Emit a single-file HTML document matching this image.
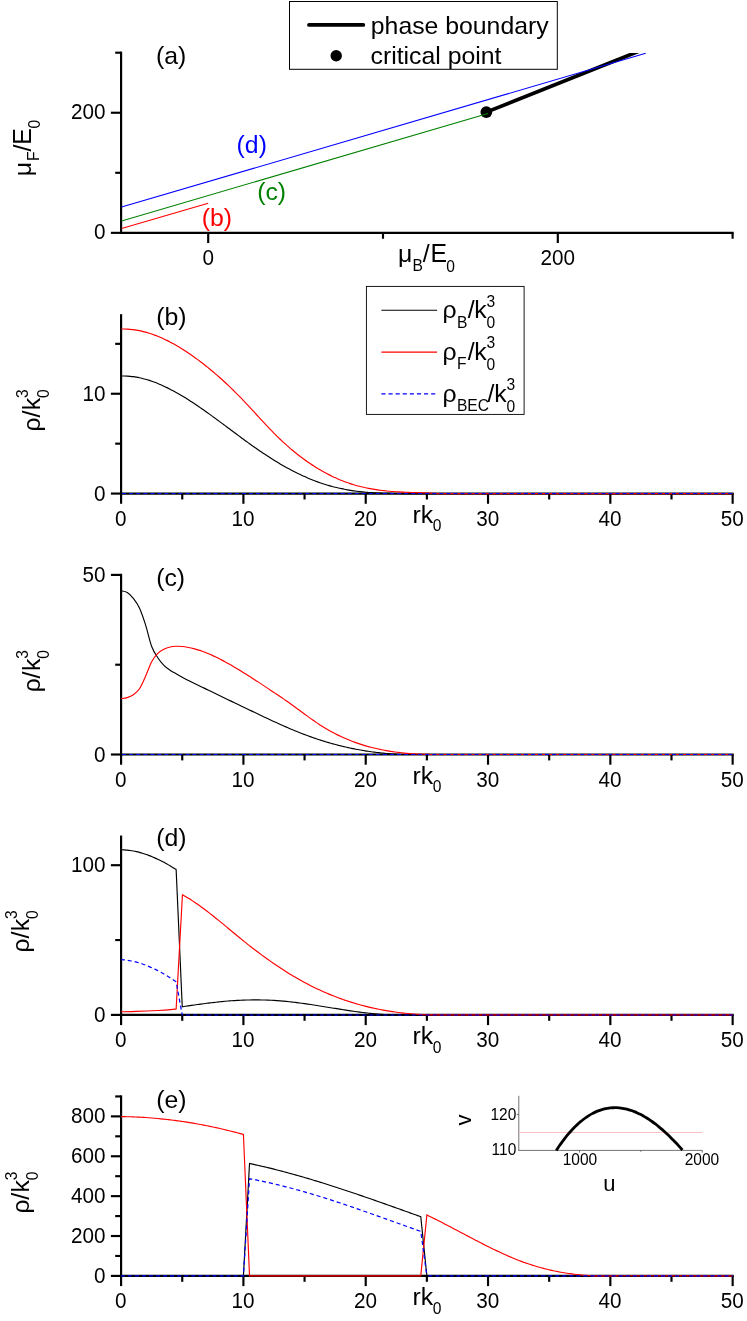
<!DOCTYPE html>
<html><head><meta charset="utf-8"><title>figure</title>
<style>html,body{margin:0;padding:0;background:#fff}svg{display:block;will-change:transform}text{font-family:"Liberation Sans",sans-serif}</style></head><body>
<svg width="747" height="1321" viewBox="0 0 747 1321">
<rect width="747" height="1321" fill="#fff"/>
<line x1="121.1" y1="51.62" x2="121.1" y2="232.85" stroke="#000" stroke-width="2.15" />
<line x1="110.9" y1="232.85" x2="121.1" y2="232.85" stroke="#000" stroke-width="2.15" />
<line x1="110.9" y1="112.75" x2="121.1" y2="112.75" stroke="#000" stroke-width="2.15" />
<line x1="115.2" y1="172.8" x2="121.1" y2="172.8" stroke="#000" stroke-width="2.15" />
<line x1="115.2" y1="52.7" x2="121.1" y2="52.7" stroke="#000" stroke-width="2.15" />
<text transform="translate(105.6 119.35) scale(1 1.04)" font-size="20.7" text-anchor="end" fill="#000" >200</text>
<text transform="translate(105.6 239.45) scale(1 1.04)" font-size="20.7" text-anchor="end" fill="#000" >0</text>
<line x1="120.02" y1="232.85" x2="733.67" y2="232.85" stroke="#000" stroke-width="2.15" />
<line x1="208.2" y1="232.85" x2="208.2" y2="243.05" stroke="#000" stroke-width="2.15" />
<line x1="557.8" y1="232.85" x2="557.8" y2="243.05" stroke="#000" stroke-width="2.15" />
<line x1="383" y1="232.85" x2="383" y2="238.75" stroke="#000" stroke-width="2.15" />
<line x1="732.6" y1="232.85" x2="732.6" y2="238.75" stroke="#000" stroke-width="2.15" />
<text transform="translate(208.2 264.95) scale(1 1.04)" font-size="20.7" text-anchor="middle" fill="#000" >0</text>
<text transform="translate(557.8 264.95) scale(1 1.04)" font-size="20.7" text-anchor="middle" fill="#000" >200</text>
<text transform="translate(398.1 262.4) scale(1 1)" font-size="24.8" text-anchor="start" fill="#000" >μ</text>
<text transform="translate(412.5 271.3) scale(1 1.04)" font-size="15.6" text-anchor="start" fill="#000" >B</text>
<text transform="translate(422.8 262.4) scale(1 1)" font-size="24.8" text-anchor="start" fill="#000" >/</text>
<text transform="translate(430.4 262.4) scale(1 1.04)" font-size="24.8" text-anchor="start" fill="#000" >E</text>
<text transform="translate(446.3 271.6) scale(1 1.04)" font-size="15.6" text-anchor="start" fill="#000" >0</text>
<g transform="translate(30.5 174.5) rotate(-90)">
<text transform="translate(-1.7 0) scale(1 1)" font-size="24.8" text-anchor="start" fill="#000" >μ</text>
<text transform="translate(13.5 8.9) scale(1 1.04)" font-size="15.6" text-anchor="start" fill="#000" >F</text>
<text transform="translate(23 0) scale(1 1)" font-size="24.8" text-anchor="start" fill="#000" >/</text>
<text transform="translate(29.8 0) scale(1 1.04)" font-size="24.8" text-anchor="start" fill="#000" >E</text>
<text transform="translate(46 9.2) scale(1 1.04)" font-size="15.6" text-anchor="start" fill="#000" >0</text>
</g>
<clipPath id="ca"><rect x="100" y="52.9" width="700" height="300"/></clipPath>
<g clip-path="url(#ca)">
<line x1="486.3" y1="112.1" x2="641" y2="50.4" stroke="#000" stroke-width="3.7" />
</g>
<line x1="121.6" y1="228.6" x2="208.2" y2="203.2" stroke="#ff0000" stroke-width="1.05" />
<circle cx="486.35" cy="112.1" r="5.9" fill="#000"/>
<line x1="121.6" y1="221" x2="488" y2="113.4" stroke="#008000" stroke-width="1.05" />
<line x1="121.6" y1="207.05" x2="645.7" y2="53.3" stroke="#0000ff" stroke-width="1.05" />
<text transform="translate(156 64.1) scale(1 1)" font-size="24.8" text-anchor="start" fill="#000" >(a)</text>
<text transform="translate(236.6 153.2) scale(1 1)" font-size="24.8" text-anchor="start" fill="#0000ff" >(d)</text>
<text transform="translate(257.2 199.8) scale(1 1)" font-size="24.8" text-anchor="start" fill="#008000" >(c)</text>
<text transform="translate(201.7 225.8) scale(1 1)" font-size="24.8" text-anchor="start" fill="#ff0000" >(b)</text>
<rect x="289.5" y="1.5" width="267.8" height="67.8" fill="#fff" stroke="#000" stroke-width="1"/>
<line x1="309" y1="24.9" x2="363.3" y2="24.9" stroke="#000" stroke-width="3.8" stroke-linecap="round"/>
<circle cx="336.2" cy="55.7" r="5.7" fill="#000"/>
<text transform="translate(370.8 34) scale(1 1)" font-size="24.8" text-anchor="start" fill="#000" >phase boundary</text>
<text transform="translate(370.5 63.9) scale(1 1)" font-size="24.8" text-anchor="start" fill="#000" >critical point</text>
<line x1="121.1" y1="314.19" x2="121.1" y2="494.64" stroke="#000" stroke-width="2.15" />
<line x1="110.9" y1="493.57" x2="121.1" y2="493.57" stroke="#000" stroke-width="2.15" />
<line x1="110.9" y1="393.75" x2="121.1" y2="393.75" stroke="#000" stroke-width="2.15" />
<line x1="115.2" y1="443.66" x2="121.1" y2="443.66" stroke="#000" stroke-width="2.15" />
<line x1="115.2" y1="343.84" x2="121.1" y2="343.84" stroke="#000" stroke-width="2.15" />
<text transform="translate(105.6 500.57) scale(1 1.04)" font-size="20.7" text-anchor="end" fill="#000" >0</text>
<text transform="translate(105.6 400.75) scale(1 1.04)" font-size="20.7" text-anchor="end" fill="#000" >10</text>
<line x1="120.02" y1="493.57" x2="733.73" y2="493.57" stroke="#000" stroke-width="2.15" />
<line x1="121.1" y1="493.57" x2="121.1" y2="503.77" stroke="#000" stroke-width="2.15" />
<line x1="243.41" y1="493.57" x2="243.41" y2="503.77" stroke="#000" stroke-width="2.15" />
<line x1="365.72" y1="493.57" x2="365.72" y2="503.77" stroke="#000" stroke-width="2.15" />
<line x1="488.03" y1="493.57" x2="488.03" y2="503.77" stroke="#000" stroke-width="2.15" />
<line x1="610.34" y1="493.57" x2="610.34" y2="503.77" stroke="#000" stroke-width="2.15" />
<line x1="732.65" y1="493.57" x2="732.65" y2="503.77" stroke="#000" stroke-width="2.15" />
<line x1="182.25" y1="493.57" x2="182.25" y2="499.47" stroke="#000" stroke-width="2.15" />
<line x1="304.56" y1="493.57" x2="304.56" y2="499.47" stroke="#000" stroke-width="2.15" />
<line x1="426.88" y1="493.57" x2="426.88" y2="499.47" stroke="#000" stroke-width="2.15" />
<line x1="549.18" y1="493.57" x2="549.18" y2="499.47" stroke="#000" stroke-width="2.15" />
<line x1="671.5" y1="493.57" x2="671.5" y2="499.47" stroke="#000" stroke-width="2.15" />
<text transform="translate(120.8 525.57) scale(1 1.04)" font-size="20.7" text-anchor="middle" fill="#000" >0</text>
<text transform="translate(243.11 525.57) scale(1 1.04)" font-size="20.7" text-anchor="middle" fill="#000" >10</text>
<text transform="translate(365.42 525.57) scale(1 1.04)" font-size="20.7" text-anchor="middle" fill="#000" >20</text>
<text transform="translate(487.73 525.57) scale(1 1.04)" font-size="20.7" text-anchor="middle" fill="#000" >30</text>
<text transform="translate(610.04 525.57) scale(1 1.04)" font-size="20.7" text-anchor="middle" fill="#000" >40</text>
<text transform="translate(732.35 525.57) scale(1 1.04)" font-size="20.7" text-anchor="middle" fill="#000" >50</text>
<text transform="translate(412.6 522.77) scale(1 1)" font-size="24.8" text-anchor="start" fill="#000" >rk</text>
<text transform="translate(432.8 531.47) scale(1 1.04)" font-size="15.6" text-anchor="start" fill="#000" >0</text>
<g transform="translate(39.9 429.8) rotate(-90)">
<text transform="translate(-1.6 0) scale(1 1)" font-size="24.8" text-anchor="start" fill="#000" >ρ</text>
<text transform="translate(12.2 0) scale(1 1)" font-size="24.8" text-anchor="start" fill="#000" >/</text>
<text transform="translate(19.6 0) scale(1 1)" font-size="24.8" text-anchor="start" fill="#000" >k</text>
<text transform="translate(31.8 -11.8) scale(1 1.04)" font-size="15.6" text-anchor="start" fill="#000" >3</text>
<text transform="translate(31.8 9.3) scale(1 1.04)" font-size="15.6" text-anchor="start" fill="#000" >0</text>
</g>
<text transform="translate(156.2 325.2) scale(1 1)" font-size="24.8" text-anchor="start" fill="#000" >(b)</text>
<path d="M121.1 376.01C121.61 376 123.14 375.97 124.16 375.98C125.18 376 126.2 376.03 127.22 376.09C128.24 376.14 129.26 376.22 130.28 376.32C131.3 376.42 132.32 376.54 133.33 376.68C134.35 376.81 135.37 376.97 136.39 377.15C137.41 377.33 138.43 377.52 139.45 377.74C140.47 377.95 141.49 378.19 142.51 378.44C143.53 378.69 144.55 378.96 145.57 379.25C146.59 379.54 147.61 379.84 148.63 380.16C149.65 380.48 150.67 380.82 151.69 381.17C152.71 381.53 153.73 381.9 154.75 382.28C155.77 382.67 156.78 383.07 157.8 383.49C158.82 383.9 159.84 384.33 160.86 384.78C161.88 385.22 162.9 385.68 163.92 386.15C164.94 386.62 165.96 387.11 166.98 387.61C168 388.11 169.02 388.62 170.04 389.14C171.06 389.67 172.08 390.2 173.1 390.75C174.12 391.3 175.14 391.86 176.16 392.43C177.18 393 178.2 393.58 179.22 394.17C180.23 394.76 181.25 395.36 182.27 395.98C183.29 396.59 184.31 397.21 185.33 397.84C186.35 398.47 187.37 399.11 188.39 399.76C189.41 400.41 190.43 401.06 191.45 401.73C192.47 402.39 193.49 403.07 194.51 403.74C195.53 404.42 196.55 405.11 197.57 405.8C198.59 406.5 199.61 407.2 200.63 407.9C201.65 408.61 202.67 409.32 203.68 410.04C204.7 410.75 205.72 411.48 206.74 412.2C207.76 412.93 208.78 413.66 209.8 414.4C210.82 415.13 211.84 415.87 212.86 416.62C213.88 417.36 214.9 418.11 215.92 418.85C216.94 419.6 217.96 420.36 218.98 421.11C220 421.86 221.02 422.62 222.04 423.38C223.06 424.14 224.08 424.89 225.1 425.65C226.12 426.41 227.13 427.18 228.15 427.94C229.17 428.7 230.19 429.46 231.21 430.22C232.23 430.98 233.25 431.74 234.27 432.5C235.29 433.26 236.31 434.02 237.33 434.78C238.35 435.53 239.37 436.29 240.39 437.04C241.41 437.79 242.43 438.54 243.45 439.29C244.47 440.04 245.49 440.78 246.51 441.53C247.53 442.27 248.55 443 249.57 443.74C250.58 444.47 251.6 445.2 252.62 445.92C253.64 446.65 254.66 447.37 255.68 448.08C256.7 448.8 257.72 449.5 258.74 450.21C259.76 450.91 260.78 451.61 261.8 452.3C262.82 452.98 263.84 453.67 264.86 454.34C265.88 455.02 266.9 455.69 267.92 456.35C268.94 457.01 269.96 457.66 270.98 458.31C272 458.95 273.02 459.59 274.03 460.22C275.05 460.85 276.07 461.47 277.09 462.08C278.11 462.7 279.13 463.3 280.15 463.9C281.17 464.5 282.19 465.09 283.21 465.67C284.23 466.25 285.25 466.82 286.27 467.39C287.29 467.95 288.31 468.51 289.33 469.06C290.35 469.6 291.37 470.14 292.39 470.67C293.41 471.2 294.43 471.72 295.45 472.23C296.47 472.74 297.48 473.25 298.5 473.74C299.52 474.23 300.54 474.72 301.56 475.19C302.58 475.67 303.6 476.14 304.62 476.59C305.64 477.05 306.66 477.49 307.68 477.93C308.7 478.37 309.72 478.8 310.74 479.21C311.76 479.63 312.78 480.04 313.8 480.44C314.82 480.84 315.84 481.22 316.86 481.6C317.88 481.98 318.9 482.35 319.92 482.71C320.93 483.06 321.95 483.41 322.97 483.75C323.99 484.08 325.01 484.41 326.03 484.73C327.05 485.04 328.07 485.35 329.09 485.64C330.11 485.93 331.13 486.22 332.15 486.49C333.17 486.76 334.19 487.03 335.21 487.28C336.23 487.53 337.25 487.77 338.27 488C339.29 488.24 340.31 488.46 341.33 488.67C342.35 488.88 343.37 489.09 344.38 489.28C345.4 489.48 346.42 489.66 347.44 489.84C348.46 490.02 349.48 490.19 350.5 490.35C351.52 490.51 352.54 490.66 353.56 490.81C354.58 490.95 355.6 491.09 356.62 491.22C357.64 491.35 358.66 491.47 359.68 491.59C360.7 491.7 361.72 491.81 362.74 491.92C363.76 492.02 364.78 492.11 365.8 492.2C366.82 492.29 367.83 492.38 368.85 492.46C369.87 492.54 370.89 492.61 371.91 492.68C372.93 492.74 373.95 492.81 374.97 492.86C375.99 492.92 377.01 492.98 378.03 493.02C379.05 493.07 380.07 493.12 381.09 493.16C382.11 493.2 383.13 493.23 384.15 493.27C385.17 493.3 386.19 493.33 387.21 493.35C388.23 493.38 389.25 493.4 390.27 493.42C391.28 493.44 392.3 493.46 393.32 493.48C394.34 493.49 395.36 493.5 396.38 493.52C397.4 493.53 398.42 493.54 399.44 493.54C400.46 493.55 401.99 493.56 402.5 493.56L732.65 493.57" fill="none" stroke="#000" stroke-width="1.15" />
<path d="M121.1 329C121.61 329 123.14 328.97 124.15 328.99C125.17 329 126.19 329.04 127.21 329.09C128.23 329.15 129.24 329.22 130.26 329.31C131.28 329.41 132.3 329.52 133.32 329.65C134.33 329.79 135.35 329.94 136.37 330.11C137.39 330.28 138.41 330.47 139.42 330.67C140.44 330.88 141.46 331.11 142.48 331.35C143.49 331.59 144.51 331.85 145.53 332.13C146.55 332.41 147.57 332.7 148.58 333.01C149.6 333.32 150.62 333.65 151.64 334C152.66 334.34 153.67 334.71 154.69 335.09C155.71 335.46 156.73 335.86 157.75 336.27C158.76 336.68 159.78 337.1 160.8 337.55C161.82 337.99 162.84 338.44 163.85 338.92C164.87 339.39 165.89 339.88 166.91 340.38C167.93 340.88 168.94 341.39 169.96 341.92C170.98 342.46 172 343 173.02 343.56C174.03 344.12 175.05 344.69 176.07 345.27C177.09 345.86 178.11 346.46 179.12 347.07C180.14 347.68 181.16 348.31 182.18 348.95C183.19 349.58 184.21 350.23 185.23 350.9C186.25 351.56 187.27 352.23 188.28 352.92C189.3 353.61 190.32 354.31 191.34 355.02C192.36 355.73 193.37 356.45 194.39 357.18C195.41 357.91 196.43 358.66 197.45 359.41C198.46 360.17 199.48 360.93 200.5 361.71C201.52 362.48 202.54 363.27 203.55 364.06C204.57 364.86 205.59 365.66 206.61 366.48C207.63 367.3 208.64 368.12 209.66 368.96C210.68 369.8 211.7 370.65 212.72 371.5C213.73 372.36 214.75 373.23 215.77 374.11C216.79 374.98 217.81 375.87 218.82 376.77C219.84 377.67 220.86 378.58 221.88 379.5C222.89 380.42 223.91 381.35 224.93 382.29C225.95 383.23 226.97 384.18 227.98 385.14C229 386.1 230.02 387.07 231.04 388.06C232.06 389.04 233.07 390.03 234.09 391.03C235.11 392.04 236.13 393.05 237.15 394.07C238.16 395.1 239.18 396.13 240.2 397.17C241.22 398.22 242.24 399.27 243.25 400.34C244.27 401.4 245.29 402.48 246.31 403.56C247.33 404.65 248.34 405.74 249.36 406.84C250.38 407.94 251.4 409.04 252.42 410.15C253.43 411.26 254.45 412.37 255.47 413.48C256.49 414.59 257.51 415.7 258.52 416.81C259.54 417.92 260.56 419.03 261.58 420.13C262.59 421.24 263.61 422.34 264.63 423.43C265.65 424.53 266.67 425.61 267.68 426.69C268.7 427.77 269.72 428.84 270.74 429.89C271.76 430.95 272.77 432 273.79 433.03C274.81 434.06 275.83 435.08 276.85 436.08C277.86 437.08 278.88 438.07 279.9 439.04C280.92 440.01 281.94 440.97 282.95 441.91C283.97 442.85 284.99 443.78 286.01 444.69C287.03 445.61 288.04 446.5 289.06 447.39C290.08 448.27 291.1 449.14 292.12 449.99C293.13 450.85 294.15 451.69 295.17 452.51C296.19 453.34 297.21 454.15 298.22 454.95C299.24 455.74 300.26 456.52 301.28 457.29C302.29 458.06 303.31 458.81 304.33 459.55C305.35 460.29 306.37 461.02 307.38 461.73C308.4 462.44 309.42 463.14 310.44 463.82C311.46 464.5 312.47 465.17 313.49 465.83C314.51 466.48 315.53 467.13 316.55 467.75C317.56 468.38 318.58 469 319.6 469.6C320.62 470.2 321.64 470.78 322.65 471.36C323.67 471.93 324.69 472.49 325.71 473.03C326.73 473.58 327.74 474.11 328.76 474.63C329.78 475.15 330.8 475.66 331.82 476.15C332.83 476.64 333.85 477.12 334.87 477.59C335.89 478.05 336.91 478.51 337.92 478.94C338.94 479.38 339.96 479.81 340.98 480.22C341.99 480.64 343.01 481.04 344.03 481.42C345.05 481.81 346.07 482.19 347.08 482.55C348.1 482.91 349.12 483.26 350.14 483.59C351.16 483.93 352.17 484.25 353.19 484.56C354.21 484.88 355.23 485.17 356.25 485.46C357.26 485.74 358.28 486.02 359.3 486.28C360.32 486.54 361.34 486.79 362.35 487.03C363.37 487.27 364.39 487.5 365.41 487.71C366.43 487.93 367.44 488.14 368.46 488.34C369.48 488.53 370.5 488.72 371.52 488.9C372.53 489.08 373.55 489.25 374.57 489.41C375.59 489.57 376.61 489.72 377.62 489.86C378.64 490.01 379.66 490.14 380.68 490.27C381.69 490.4 382.71 490.52 383.73 490.63C384.75 490.74 385.77 490.85 386.78 490.95C387.8 491.05 388.82 491.15 389.84 491.23C390.86 491.32 391.87 491.41 392.89 491.48C393.91 491.56 394.93 491.63 395.95 491.7C396.96 491.77 397.98 491.83 399 491.89C400.02 491.95 401.04 492.01 402.05 492.06C403.07 492.12 404.09 492.16 405.11 492.21C406.13 492.26 407.14 492.3 408.16 492.34C409.18 492.39 410.2 492.43 411.22 492.46C412.23 492.5 413.25 492.54 414.27 492.58C415.29 492.61 416.31 492.65 417.32 492.68C418.34 492.72 419.36 492.75 420.38 492.79C421.39 492.82 422.41 492.86 423.43 492.89C424.45 492.93 425.47 492.97 426.48 493C427.5 493.04 428.52 493.08 429.54 493.12C430.56 493.17 431.57 493.21 432.59 493.26C433.61 493.3 434.63 493.35 435.65 493.41C436.66 493.46 438.19 493.54 438.7 493.57L732.65 493.57" fill="none" stroke="#ff0000" stroke-width="1.15" />
<path d="M121.1 493.5L732.65 493.5" fill="none" stroke="#0000ff" stroke-width="1.15" stroke-dasharray="4.12 2.93" stroke-dashoffset="6.15"/>
<rect x="366.4" y="286.4" width="157.7" height="128" fill="#fff" stroke="#000" stroke-width="0.9"/>
<line x1="381.4" y1="310.2" x2="437.1" y2="310.2" stroke="#000" stroke-width="1.15" />
<text transform="translate(442.4 318.2) scale(1 1)" font-size="24.8" text-anchor="start" fill="#000" >ρ</text>
<text transform="translate(456.9 327.5) scale(1 1.04)" font-size="15.6" text-anchor="start" fill="#000" >B</text>
<text transform="translate(467.7 318.2) scale(1 1)" font-size="24.8" text-anchor="start" fill="#000" >/</text>
<text transform="translate(474.3 318.2) scale(1 1)" font-size="24.8" text-anchor="start" fill="#000" >k</text>
<text transform="translate(486.6 306.5) scale(1 1.04)" font-size="15.6" text-anchor="start" fill="#000" >3</text>
<text transform="translate(486.6 327.7) scale(1 1.04)" font-size="15.6" text-anchor="start" fill="#000" >0</text>
<line x1="381.4" y1="352.15" x2="437.1" y2="352.15" stroke="#ff0000" stroke-width="1.15" />
<text transform="translate(442.4 360.15) scale(1 1)" font-size="24.8" text-anchor="start" fill="#000" >ρ</text>
<text transform="translate(456.9 369.45) scale(1 1.04)" font-size="15.6" text-anchor="start" fill="#000" >F</text>
<text transform="translate(467.7 360.15) scale(1 1)" font-size="24.8" text-anchor="start" fill="#000" >/</text>
<text transform="translate(474.3 360.15) scale(1 1)" font-size="24.8" text-anchor="start" fill="#000" >k</text>
<text transform="translate(486.6 348.45) scale(1 1.04)" font-size="15.6" text-anchor="start" fill="#000" >3</text>
<text transform="translate(486.6 369.65) scale(1 1.04)" font-size="15.6" text-anchor="start" fill="#000" >0</text>
<line x1="381.4" y1="393.9" x2="437.1" y2="393.9" stroke="#0000ff" stroke-width="1.15" stroke-dasharray="4.15 2.95"/>
<text transform="translate(442.4 402.1) scale(1 1)" font-size="24.8" text-anchor="start" fill="#000" >ρ</text>
<text transform="translate(456.9 411.4) scale(1 1.04)" font-size="15.6" text-anchor="start" fill="#000" >BEC</text>
<text transform="translate(487.6 402.1) scale(1 1)" font-size="24.8" text-anchor="start" fill="#000" >/</text>
<text transform="translate(494.2 402.1) scale(1 1)" font-size="24.8" text-anchor="start" fill="#000" >k</text>
<text transform="translate(506.5 390.4) scale(1 1.04)" font-size="15.6" text-anchor="start" fill="#000" >3</text>
<text transform="translate(506.5 411.6) scale(1 1.04)" font-size="15.6" text-anchor="start" fill="#000" >0</text>
<line x1="121.1" y1="573.82" x2="121.1" y2="755.58" stroke="#000" stroke-width="2.15" />
<line x1="110.9" y1="754.5" x2="121.1" y2="754.5" stroke="#000" stroke-width="2.15" />
<line x1="110.9" y1="574.9" x2="121.1" y2="574.9" stroke="#000" stroke-width="2.15" />
<line x1="115.2" y1="664.7" x2="121.1" y2="664.7" stroke="#000" stroke-width="2.15" />
<text transform="translate(105.6 761.5) scale(1 1.04)" font-size="20.7" text-anchor="end" fill="#000" >0</text>
<text transform="translate(105.6 581.9) scale(1 1.04)" font-size="20.7" text-anchor="end" fill="#000" >50</text>
<line x1="120.02" y1="754.5" x2="733.73" y2="754.5" stroke="#000" stroke-width="2.15" />
<line x1="121.1" y1="754.5" x2="121.1" y2="764.7" stroke="#000" stroke-width="2.15" />
<line x1="243.41" y1="754.5" x2="243.41" y2="764.7" stroke="#000" stroke-width="2.15" />
<line x1="365.72" y1="754.5" x2="365.72" y2="764.7" stroke="#000" stroke-width="2.15" />
<line x1="488.03" y1="754.5" x2="488.03" y2="764.7" stroke="#000" stroke-width="2.15" />
<line x1="610.34" y1="754.5" x2="610.34" y2="764.7" stroke="#000" stroke-width="2.15" />
<line x1="732.65" y1="754.5" x2="732.65" y2="764.7" stroke="#000" stroke-width="2.15" />
<line x1="182.25" y1="754.5" x2="182.25" y2="760.4" stroke="#000" stroke-width="2.15" />
<line x1="304.56" y1="754.5" x2="304.56" y2="760.4" stroke="#000" stroke-width="2.15" />
<line x1="426.88" y1="754.5" x2="426.88" y2="760.4" stroke="#000" stroke-width="2.15" />
<line x1="549.18" y1="754.5" x2="549.18" y2="760.4" stroke="#000" stroke-width="2.15" />
<line x1="671.5" y1="754.5" x2="671.5" y2="760.4" stroke="#000" stroke-width="2.15" />
<text transform="translate(120.8 786.5) scale(1 1.04)" font-size="20.7" text-anchor="middle" fill="#000" >0</text>
<text transform="translate(243.11 786.5) scale(1 1.04)" font-size="20.7" text-anchor="middle" fill="#000" >10</text>
<text transform="translate(365.42 786.5) scale(1 1.04)" font-size="20.7" text-anchor="middle" fill="#000" >20</text>
<text transform="translate(487.73 786.5) scale(1 1.04)" font-size="20.7" text-anchor="middle" fill="#000" >30</text>
<text transform="translate(610.04 786.5) scale(1 1.04)" font-size="20.7" text-anchor="middle" fill="#000" >40</text>
<text transform="translate(732.35 786.5) scale(1 1.04)" font-size="20.7" text-anchor="middle" fill="#000" >50</text>
<text transform="translate(412.6 783.7) scale(1 1)" font-size="24.8" text-anchor="start" fill="#000" >rk</text>
<text transform="translate(432.8 792.4) scale(1 1.04)" font-size="15.6" text-anchor="start" fill="#000" >0</text>
<g transform="translate(39.9 690.6) rotate(-90)">
<text transform="translate(-1.6 0) scale(1 1)" font-size="24.8" text-anchor="start" fill="#000" >ρ</text>
<text transform="translate(12.2 0) scale(1 1)" font-size="24.8" text-anchor="start" fill="#000" >/</text>
<text transform="translate(19.6 0) scale(1 1)" font-size="24.8" text-anchor="start" fill="#000" >k</text>
<text transform="translate(31.8 -11.8) scale(1 1.04)" font-size="15.6" text-anchor="start" fill="#000" >3</text>
<text transform="translate(31.8 9.3) scale(1 1.04)" font-size="15.6" text-anchor="start" fill="#000" >0</text>
</g>
<text transform="translate(156.2 585.8) scale(1 1)" font-size="24.8" text-anchor="start" fill="#000" >(c)</text>
<path d="M121.1 590.8C122.12 591.08 125.18 591.25 127.22 592.5C129.25 593.75 131.29 595.73 133.33 598.3C135.37 600.87 137.41 603.48 139.45 607.9C141.48 612.32 143.52 618.37 145.56 624.8C147.6 631.23 149.64 641.02 151.68 646.5C153.72 651.98 155.75 654.57 157.79 657.7C159.83 660.83 161.87 663.22 163.91 665.3C165.95 667.38 167.99 668.78 170.02 670.2C172.06 671.62 174.1 672.63 176.14 673.8C178.18 674.97 180.22 676.1 182.25 677.2C184.29 678.3 186.33 679.37 188.37 680.4C190.41 681.43 192.45 682.4 194.49 683.4C196.52 684.4 199.07 685.65 200.6 686.4C202.13 687.15 202.63 687.39 203.65 687.89C204.66 688.38 205.68 688.87 206.69 689.36C207.71 689.86 208.72 690.35 209.74 690.84C210.75 691.33 211.77 691.82 212.79 692.31C213.8 692.8 214.82 693.3 215.83 693.79C216.85 694.28 217.86 694.77 218.88 695.26C219.89 695.75 220.91 696.24 221.92 696.73C222.94 697.22 223.95 697.71 224.97 698.2C225.98 698.69 227 699.18 228.01 699.67C229.03 700.16 230.05 700.65 231.06 701.13C232.08 701.62 233.09 702.11 234.11 702.6C235.12 703.09 236.14 703.58 237.15 704.06C238.17 704.55 239.18 705.04 240.2 705.53C241.21 706.01 242.23 706.5 243.24 706.99C244.26 707.48 245.28 707.96 246.29 708.45C247.31 708.93 248.32 709.42 249.34 709.91C250.35 710.39 251.37 710.88 252.38 711.36C253.4 711.85 254.41 712.33 255.43 712.82C256.44 713.3 257.46 713.79 258.47 714.27C259.49 714.75 260.5 715.24 261.52 715.72C262.54 716.2 263.55 716.68 264.57 717.16C265.58 717.64 266.6 718.12 267.61 718.59C268.63 719.07 269.64 719.54 270.66 720.01C271.67 720.49 272.69 720.96 273.7 721.42C274.72 721.89 275.73 722.36 276.75 722.82C277.76 723.28 278.78 723.74 279.8 724.2C280.81 724.66 281.83 725.11 282.84 725.56C283.86 726.01 284.87 726.46 285.89 726.9C286.9 727.34 287.92 727.78 288.93 728.22C289.95 728.65 290.96 729.09 291.98 729.51C292.99 729.94 294.01 730.36 295.03 730.78C296.04 731.2 297.06 731.61 298.07 732.02C299.09 732.43 300.1 732.83 301.12 733.23C302.13 733.63 303.15 734.02 304.16 734.41C305.18 734.8 306.19 735.18 307.21 735.56C308.22 735.93 309.24 736.3 310.25 736.66C311.27 737.03 312.29 737.39 313.3 737.74C314.32 738.09 315.33 738.44 316.35 738.78C317.36 739.12 318.38 739.45 319.39 739.78C320.41 740.11 321.42 740.43 322.44 740.75C323.45 741.07 324.47 741.38 325.48 741.69C326.5 741.99 327.52 742.29 328.53 742.59C329.55 742.88 330.56 743.17 331.58 743.46C332.59 743.74 333.61 744.02 334.62 744.29C335.64 744.56 336.65 744.83 337.67 745.09C338.68 745.35 339.7 745.61 340.71 745.86C341.73 746.11 342.74 746.35 343.76 746.59C344.78 746.83 345.79 747.06 346.81 747.29C347.82 747.52 348.84 747.74 349.85 747.96C350.87 748.18 351.88 748.39 352.9 748.6C353.91 748.8 354.93 749 355.94 749.2C356.96 749.39 357.97 749.58 358.99 749.77C360 749.95 361.02 750.13 362.04 750.31C363.05 750.48 364.07 750.65 365.08 750.81C366.1 750.98 367.11 751.13 368.13 751.29C369.14 751.44 370.16 751.59 371.17 751.73C372.19 751.87 373.2 752.01 374.22 752.14C375.23 752.27 376.25 752.4 377.27 752.52C378.28 752.64 379.3 752.76 380.31 752.87C381.33 752.98 382.34 753.09 383.36 753.19C384.37 753.29 385.39 753.38 386.4 753.47C387.42 753.56 388.43 753.65 389.45 753.73C390.46 753.81 391.48 753.89 392.49 753.96C393.51 754.03 394.53 754.09 395.54 754.15C396.56 754.21 397.57 754.27 398.59 754.32C399.6 754.37 400.62 754.42 401.63 754.45C402.65 754.48 403.66 754.49 404.68 754.5C405.69 754.51 406.71 754.5 407.72 754.5C408.74 754.5 409.76 754.5 410.77 754.5C411.79 754.5 412.8 754.5 413.82 754.5C414.83 754.5 415.85 754.5 416.86 754.5C417.88 754.5 418.89 754.5 419.91 754.5C420.92 754.5 421.94 754.5 422.95 754.5C423.97 754.5 425.49 754.49 426 754.49L732.65 754.5" fill="none" stroke="#000" stroke-width="1.15" />
<path d="M121.1 698.6C122.12 698.43 125.18 698.23 127.22 697.6C129.25 696.97 131.29 696.27 133.33 694.8C135.37 693.33 137.41 691.88 139.45 688.8C141.48 685.72 143.52 680.82 145.56 676.3C147.6 671.78 149.64 665.52 151.68 661.7C153.72 657.88 155.75 655.48 157.79 653.4C159.83 651.32 161.87 650.27 163.91 649.2C165.95 648.13 167.99 647.48 170.02 647C172.06 646.52 174.1 646.38 176.14 646.3C178.18 646.22 180.22 646.3 182.25 646.5C184.29 646.7 186.33 647.1 188.37 647.5C190.41 647.9 192.45 648.38 194.49 648.9C196.52 649.42 199.08 650.13 200.6 650.6C202.13 651.07 202.63 651.35 203.64 651.74C204.66 652.13 205.67 652.54 206.68 652.96C207.7 653.38 208.71 653.82 209.73 654.26C210.74 654.7 211.75 655.16 212.77 655.63C213.78 656.1 214.79 656.57 215.81 657.06C216.82 657.55 217.84 658.05 218.85 658.56C219.86 659.07 220.88 659.59 221.89 660.12C222.91 660.65 223.92 661.19 224.93 661.74C225.95 662.28 226.96 662.84 227.97 663.4C228.99 663.97 230 664.54 231.02 665.12C232.03 665.7 233.04 666.29 234.06 666.88C235.07 667.47 236.09 668.08 237.1 668.68C238.11 669.29 239.13 669.9 240.14 670.52C241.15 671.14 242.17 671.77 243.18 672.39C244.2 673.02 245.21 673.66 246.22 674.3C247.24 674.94 248.25 675.58 249.26 676.23C250.28 676.87 251.29 677.52 252.31 678.18C253.32 678.83 254.33 679.49 255.35 680.15C256.36 680.81 257.38 681.47 258.39 682.13C259.4 682.8 260.42 683.46 261.43 684.13C262.44 684.79 263.46 685.46 264.47 686.13C265.49 686.8 266.5 687.47 267.51 688.14C268.53 688.81 269.54 689.48 270.55 690.15C271.57 690.83 272.58 691.5 273.6 692.18C274.61 692.86 275.62 693.53 276.64 694.22C277.65 694.9 278.67 695.58 279.68 696.27C280.69 696.96 281.71 697.65 282.72 698.35C283.73 699.05 284.75 699.75 285.76 700.45C286.78 701.16 287.79 701.86 288.8 702.58C289.82 703.3 290.83 704.02 291.84 704.74C292.86 705.47 293.87 706.2 294.89 706.94C295.9 707.68 296.91 708.42 297.93 709.17C298.94 709.92 299.96 710.67 300.97 711.42C301.98 712.17 303 712.92 304.01 713.67C305.02 714.42 306.04 715.17 307.05 715.91C308.07 716.65 309.08 717.39 310.09 718.12C311.11 718.85 312.12 719.57 313.13 720.28C314.15 721 315.16 721.7 316.18 722.39C317.19 723.08 318.2 723.76 319.22 724.42C320.23 725.08 321.25 725.73 322.26 726.36C323.27 727 324.29 727.62 325.3 728.22C326.31 728.83 327.33 729.42 328.34 730C329.36 730.58 330.37 731.15 331.38 731.7C332.4 732.26 333.41 732.8 334.43 733.32C335.44 733.85 336.45 734.36 337.47 734.87C338.48 735.37 339.49 735.86 340.51 736.33C341.52 736.81 342.54 737.28 343.55 737.73C344.56 738.18 345.58 738.62 346.59 739.05C347.6 739.48 348.62 739.9 349.63 740.31C350.65 740.72 351.66 741.11 352.67 741.5C353.69 741.88 354.7 742.25 355.72 742.62C356.73 742.98 357.74 743.33 358.76 743.67C359.77 744.02 360.78 744.35 361.8 744.67C362.81 744.99 363.83 745.3 364.84 745.6C365.85 745.9 366.87 746.2 367.88 746.48C368.89 746.76 369.91 747.03 370.92 747.3C371.94 747.56 372.95 747.81 373.96 748.06C374.98 748.31 375.99 748.54 377.01 748.77C378.02 749 379.03 749.22 380.05 749.43C381.06 749.64 382.07 749.84 383.09 750.04C384.1 750.23 385.12 750.42 386.13 750.6C387.14 750.78 388.16 750.95 389.17 751.11C390.18 751.28 391.2 751.43 392.21 751.58C393.23 751.73 394.24 751.87 395.25 752.01C396.27 752.15 397.28 752.28 398.3 752.4C399.31 752.52 400.32 752.64 401.34 752.75C402.35 752.86 403.36 752.96 404.38 753.06C405.39 753.16 406.41 753.25 407.42 753.33C408.43 753.42 409.45 753.5 410.46 753.58C411.48 753.65 412.49 753.72 413.5 753.79C414.52 753.85 415.53 753.91 416.54 753.97C417.56 754.02 418.57 754.07 419.59 754.12C420.6 754.17 421.61 754.21 422.63 754.25C423.64 754.28 424.65 754.32 425.67 754.35C426.68 754.38 427.7 754.4 428.71 754.43C429.72 754.45 430.74 754.47 431.75 754.48C432.77 754.5 433.78 754.5 434.79 754.5C435.81 754.5 436.82 754.5 437.83 754.5C438.85 754.5 439.86 754.5 440.88 754.5C441.89 754.5 442.9 754.5 443.92 754.5C444.93 754.5 445.94 754.5 446.96 754.5C447.97 754.5 449.49 754.49 450 754.49L732.65 754.5" fill="none" stroke="#ff0000" stroke-width="1.15" />
<path d="M121.1 754.5L732.65 754.5" fill="none" stroke="#0000ff" stroke-width="1.15" stroke-dasharray="4.12 2.93" stroke-dashoffset="6.15"/>
<line x1="121.1" y1="835.56" x2="121.1" y2="1015.98" stroke="#000" stroke-width="2.15" />
<line x1="110.9" y1="1014.9" x2="121.1" y2="1014.9" stroke="#000" stroke-width="2.15" />
<line x1="110.9" y1="865.2" x2="121.1" y2="865.2" stroke="#000" stroke-width="2.15" />
<line x1="115.2" y1="940.05" x2="121.1" y2="940.05" stroke="#000" stroke-width="2.15" />
<text transform="translate(105.6 1021.9) scale(1 1.04)" font-size="20.7" text-anchor="end" fill="#000" >0</text>
<text transform="translate(105.6 872.2) scale(1 1.04)" font-size="20.7" text-anchor="end" fill="#000" >100</text>
<line x1="120.02" y1="1014.9" x2="733.73" y2="1014.9" stroke="#000" stroke-width="2.15" />
<line x1="121.1" y1="1014.9" x2="121.1" y2="1025.1" stroke="#000" stroke-width="2.15" />
<line x1="243.41" y1="1014.9" x2="243.41" y2="1025.1" stroke="#000" stroke-width="2.15" />
<line x1="365.72" y1="1014.9" x2="365.72" y2="1025.1" stroke="#000" stroke-width="2.15" />
<line x1="488.03" y1="1014.9" x2="488.03" y2="1025.1" stroke="#000" stroke-width="2.15" />
<line x1="610.34" y1="1014.9" x2="610.34" y2="1025.1" stroke="#000" stroke-width="2.15" />
<line x1="732.65" y1="1014.9" x2="732.65" y2="1025.1" stroke="#000" stroke-width="2.15" />
<line x1="182.25" y1="1014.9" x2="182.25" y2="1020.8" stroke="#000" stroke-width="2.15" />
<line x1="304.56" y1="1014.9" x2="304.56" y2="1020.8" stroke="#000" stroke-width="2.15" />
<line x1="426.88" y1="1014.9" x2="426.88" y2="1020.8" stroke="#000" stroke-width="2.15" />
<line x1="549.18" y1="1014.9" x2="549.18" y2="1020.8" stroke="#000" stroke-width="2.15" />
<line x1="671.5" y1="1014.9" x2="671.5" y2="1020.8" stroke="#000" stroke-width="2.15" />
<text transform="translate(120.8 1046.9) scale(1 1.04)" font-size="20.7" text-anchor="middle" fill="#000" >0</text>
<text transform="translate(243.11 1046.9) scale(1 1.04)" font-size="20.7" text-anchor="middle" fill="#000" >10</text>
<text transform="translate(365.42 1046.9) scale(1 1.04)" font-size="20.7" text-anchor="middle" fill="#000" >20</text>
<text transform="translate(487.73 1046.9) scale(1 1.04)" font-size="20.7" text-anchor="middle" fill="#000" >30</text>
<text transform="translate(610.04 1046.9) scale(1 1.04)" font-size="20.7" text-anchor="middle" fill="#000" >40</text>
<text transform="translate(732.35 1046.9) scale(1 1.04)" font-size="20.7" text-anchor="middle" fill="#000" >50</text>
<text transform="translate(412.6 1044.1) scale(1 1)" font-size="24.8" text-anchor="start" fill="#000" >rk</text>
<text transform="translate(432.8 1052.8) scale(1 1.04)" font-size="15.6" text-anchor="start" fill="#000" >0</text>
<g transform="translate(28.8 950.8) rotate(-90)">
<text transform="translate(-1.6 0) scale(1 1)" font-size="24.8" text-anchor="start" fill="#000" >ρ</text>
<text transform="translate(12.2 0) scale(1 1)" font-size="24.8" text-anchor="start" fill="#000" >/</text>
<text transform="translate(19.6 0) scale(1 1)" font-size="24.8" text-anchor="start" fill="#000" >k</text>
<text transform="translate(31.8 -11.8) scale(1 1.04)" font-size="15.6" text-anchor="start" fill="#000" >3</text>
<text transform="translate(31.8 9.3) scale(1 1.04)" font-size="15.6" text-anchor="start" fill="#000" >0</text>
</g>
<text transform="translate(156.2 845.8) scale(1 1)" font-size="24.8" text-anchor="start" fill="#000" >(d)</text>
<path d="M121.1 849.7C121.61 849.72 123.14 849.77 124.16 849.84C125.18 849.91 126.2 850 127.22 850.12C128.23 850.23 129.25 850.36 130.27 850.51C131.29 850.66 132.31 850.84 133.33 851.03C134.35 851.22 135.37 851.44 136.39 851.67C137.41 851.9 138.43 852.15 139.45 852.42C140.47 852.69 141.49 852.98 142.5 853.29C143.52 853.6 144.54 853.93 145.56 854.27C146.58 854.62 147.6 854.98 148.62 855.36C149.64 855.74 150.66 856.14 151.68 856.56C152.7 856.97 153.72 857.4 154.74 857.85C155.75 858.3 156.77 858.77 157.79 859.25C158.81 859.73 159.83 860.23 160.85 860.75C161.87 861.26 162.89 861.79 163.91 862.34C164.93 862.89 165.95 863.45 166.97 864.02C167.99 864.6 169 865.19 170.02 865.8C171.04 866.4 172.06 867.02 173.08 867.66C174.1 868.29 175.63 869.28 176.14 869.6L182.25 1006.75C182.76 1006.68 184.29 1006.45 185.31 1006.3C186.33 1006.14 187.35 1005.99 188.37 1005.84C189.39 1005.69 190.41 1005.55 191.43 1005.4C192.45 1005.25 193.47 1005.1 194.49 1004.96C195.51 1004.81 196.53 1004.67 197.55 1004.53C198.57 1004.39 199.59 1004.25 200.61 1004.11C201.63 1003.97 202.65 1003.83 203.67 1003.7C204.69 1003.57 205.71 1003.43 206.73 1003.3C207.75 1003.17 208.77 1003.05 209.79 1002.92C210.81 1002.8 211.82 1002.68 212.84 1002.56C213.86 1002.44 214.88 1002.32 215.9 1002.21C216.92 1002.1 217.94 1001.99 218.96 1001.88C219.98 1001.78 221 1001.67 222.02 1001.58C223.04 1001.48 224.06 1001.38 225.08 1001.29C226.1 1001.2 227.12 1001.11 228.14 1001.03C229.16 1000.95 230.18 1000.87 231.2 1000.79C232.22 1000.72 233.24 1000.65 234.26 1000.58C235.28 1000.52 236.3 1000.46 237.32 1000.4C238.34 1000.35 239.36 1000.29 240.38 1000.25C241.39 1000.2 242.41 1000.16 243.43 1000.12C244.45 1000.08 245.47 1000.05 246.49 1000.02C247.51 999.99 248.53 999.97 249.55 999.95C250.57 999.93 251.59 999.92 252.61 999.91C253.63 999.9 254.65 999.9 255.67 999.9C256.69 999.9 257.71 999.91 258.73 999.92C259.75 999.93 260.77 999.94 261.79 999.96C262.81 999.98 263.83 1000.01 264.85 1000.04C265.87 1000.07 266.89 1000.1 267.91 1000.14C268.93 1000.18 269.95 1000.23 270.96 1000.28C271.98 1000.33 273 1000.38 274.02 1000.44C275.04 1000.5 276.06 1000.57 277.08 1000.64C278.1 1000.71 279.12 1000.78 280.14 1000.86C281.16 1000.94 282.18 1001.03 283.2 1001.12C284.22 1001.21 285.24 1001.31 286.26 1001.41C287.28 1001.51 288.3 1001.61 289.32 1001.72C290.34 1001.83 291.36 1001.94 292.38 1002.06C293.4 1002.18 294.42 1002.3 295.44 1002.42C296.46 1002.55 297.48 1002.68 298.5 1002.81C299.52 1002.94 300.53 1003.08 301.55 1003.22C302.57 1003.36 303.59 1003.5 304.61 1003.64C305.63 1003.79 306.65 1003.93 307.67 1004.08C308.69 1004.23 309.71 1004.38 310.73 1004.54C311.75 1004.69 312.77 1004.85 313.79 1005C314.81 1005.16 315.83 1005.32 316.85 1005.48C317.87 1005.64 318.89 1005.8 319.91 1005.96C320.93 1006.13 321.95 1006.29 322.97 1006.46C323.99 1006.62 325.01 1006.79 326.03 1006.95C327.05 1007.12 328.07 1007.28 329.09 1007.45C330.1 1007.61 331.12 1007.78 332.14 1007.95C333.16 1008.11 334.18 1008.28 335.2 1008.44C336.22 1008.61 337.24 1008.77 338.26 1008.93C339.28 1009.1 340.3 1009.26 341.32 1009.42C342.34 1009.58 343.36 1009.74 344.38 1009.9C345.4 1010.06 346.42 1010.21 347.44 1010.37C348.46 1010.52 349.48 1010.68 350.5 1010.83C351.52 1010.98 352.54 1011.13 353.56 1011.27C354.58 1011.42 355.6 1011.56 356.62 1011.7C357.64 1011.84 358.65 1011.98 359.67 1012.11C360.69 1012.24 361.71 1012.37 362.73 1012.5C363.75 1012.63 364.77 1012.75 365.79 1012.87C366.81 1012.99 367.83 1013.1 368.85 1013.22C369.87 1013.33 370.89 1013.43 371.91 1013.54C372.93 1013.64 373.95 1013.74 374.97 1013.83C375.99 1013.92 377.01 1014.01 378.03 1014.09C379.05 1014.17 380.07 1014.25 381.09 1014.32C382.11 1014.39 383.13 1014.46 384.15 1014.52C385.17 1014.58 386.19 1014.64 387.21 1014.68C388.22 1014.73 389.24 1014.77 390.26 1014.81C391.28 1014.84 392.3 1014.88 393.32 1014.9C394.34 1014.91 395.36 1014.9 396.38 1014.9C397.4 1014.9 398.42 1014.9 399.44 1014.9C400.46 1014.9 401.99 1014.9 402.5 1014.9L732.65 1014.9" fill="none" stroke="#000" stroke-width="1.15" />
<path d="M121.1 1011.78C123.65 1011.71 130.28 1011.59 136.4 1011.37C142.52 1011.15 152.08 1010.75 157.8 1010.46C163.52 1010.18 167.64 1009.91 170.7 1009.66C173.76 1009.41 175.23 1009.07 176.14 1008.95L182.45 894.79C182.96 895.08 184.48 895.91 185.5 896.5C186.51 897.09 187.52 897.69 188.54 898.32C189.55 898.94 190.56 899.58 191.58 900.23C192.59 900.88 193.6 901.55 194.62 902.23C195.63 902.91 196.64 903.61 197.66 904.32C198.67 905.03 199.68 905.75 200.7 906.48C201.71 907.22 202.72 907.96 203.74 908.72C204.75 909.47 205.76 910.24 206.78 911.01C207.79 911.79 208.8 912.57 209.82 913.36C210.83 914.15 211.84 914.95 212.86 915.76C213.87 916.56 214.88 917.38 215.9 918.2C216.91 919.01 217.92 919.84 218.94 920.67C219.95 921.49 220.97 922.33 221.98 923.16C222.99 924 224.01 924.84 225.02 925.68C226.03 926.51 227.05 927.36 228.06 928.2C229.07 929.04 230.09 929.89 231.1 930.73C232.11 931.57 233.13 932.41 234.14 933.25C235.15 934.09 236.17 934.93 237.18 935.77C238.19 936.6 239.21 937.44 240.22 938.26C241.23 939.09 242.25 939.91 243.26 940.73C244.27 941.55 245.29 942.36 246.3 943.17C247.31 943.98 248.33 944.78 249.34 945.58C250.35 946.37 251.37 947.16 252.38 947.95C253.39 948.73 254.41 949.51 255.42 950.28C256.44 951.05 257.45 951.82 258.46 952.58C259.48 953.34 260.49 954.09 261.5 954.84C262.52 955.59 263.53 956.33 264.54 957.06C265.56 957.8 266.57 958.53 267.58 959.25C268.6 959.97 269.61 960.69 270.62 961.4C271.64 962.11 272.65 962.81 273.66 963.5C274.68 964.2 275.69 964.89 276.7 965.57C277.72 966.25 278.73 966.93 279.74 967.6C280.76 968.26 281.77 968.92 282.78 969.58C283.8 970.23 284.81 970.88 285.82 971.52C286.84 972.16 287.85 972.79 288.86 973.42C289.88 974.04 290.89 974.66 291.91 975.27C292.92 975.88 293.93 976.48 294.95 977.08C295.96 977.67 296.97 978.26 297.99 978.84C299 979.42 300.01 979.99 301.03 980.55C302.04 981.12 303.05 981.67 304.07 982.22C305.08 982.77 306.09 983.31 307.11 983.84C308.12 984.38 309.13 984.9 310.15 985.42C311.16 985.93 312.17 986.44 313.19 986.94C314.2 987.44 315.21 987.93 316.23 988.42C317.24 988.9 318.25 989.38 319.27 989.85C320.28 990.32 321.29 990.78 322.31 991.23C323.32 991.69 324.33 992.14 325.35 992.57C326.36 993.01 327.38 993.45 328.39 993.87C329.4 994.29 330.42 994.71 331.43 995.12C332.44 995.53 333.46 995.93 334.47 996.33C335.48 996.72 336.5 997.11 337.51 997.49C338.52 997.87 339.54 998.24 340.55 998.61C341.56 998.98 342.58 999.33 343.59 999.69C344.6 1000.04 345.62 1000.38 346.63 1000.72C347.64 1001.06 348.66 1001.39 349.67 1001.72C350.68 1002.04 351.7 1002.36 352.71 1002.67C353.72 1002.98 354.74 1003.29 355.75 1003.59C356.76 1003.88 357.78 1004.18 358.79 1004.46C359.8 1004.75 360.82 1005.02 361.83 1005.3C362.85 1005.57 363.86 1005.83 364.87 1006.09C365.89 1006.35 366.9 1006.6 367.91 1006.85C368.93 1007.1 369.94 1007.34 370.95 1007.57C371.97 1007.81 372.98 1008.03 373.99 1008.26C375.01 1008.48 376.02 1008.69 377.03 1008.9C378.05 1009.11 379.06 1009.32 380.07 1009.51C381.09 1009.71 382.1 1009.9 383.11 1010.09C384.13 1010.28 385.14 1010.46 386.15 1010.63C387.17 1010.81 388.18 1010.98 389.19 1011.14C390.21 1011.3 391.22 1011.46 392.23 1011.61C393.25 1011.76 394.26 1011.91 395.27 1012.05C396.29 1012.19 397.3 1012.33 398.32 1012.46C399.33 1012.59 400.34 1012.72 401.36 1012.83C402.37 1012.95 403.38 1013.07 404.4 1013.18C405.41 1013.29 406.42 1013.39 407.44 1013.49C408.45 1013.59 409.46 1013.68 410.48 1013.77C411.49 1013.86 412.5 1013.94 413.52 1014.02C414.53 1014.1 415.54 1014.18 416.56 1014.25C417.57 1014.32 418.58 1014.38 419.6 1014.44C420.61 1014.5 421.62 1014.55 422.64 1014.6C423.65 1014.65 424.66 1014.7 425.68 1014.74C426.69 1014.78 427.7 1014.82 428.72 1014.85C429.73 1014.88 430.74 1014.89 431.76 1014.9C432.77 1014.91 433.79 1014.9 434.8 1014.9C435.81 1014.9 436.83 1014.9 437.84 1014.9C438.85 1014.9 439.87 1014.9 440.88 1014.9C441.89 1014.9 442.91 1014.9 443.92 1014.9C444.93 1014.9 445.95 1014.9 446.96 1014.9C447.97 1014.9 449.49 1014.89 450 1014.89L732.65 1014.9" fill="none" stroke="#ff0000" stroke-width="1.15" />
<path d="M121.1 959.6C121.61 959.64 123.14 959.74 124.16 959.84C125.18 959.95 126.2 960.07 127.22 960.22C128.23 960.37 129.25 960.54 130.27 960.73C131.29 960.92 132.31 961.13 133.33 961.37C134.35 961.6 135.37 961.85 136.39 962.13C137.41 962.4 138.43 962.7 139.45 963.01C140.47 963.32 141.49 963.66 142.5 964.01C143.52 964.36 144.54 964.74 145.56 965.13C146.58 965.52 147.6 965.92 148.62 966.35C149.64 966.78 150.66 967.22 151.68 967.68C152.7 968.15 153.72 968.63 154.74 969.12C155.75 969.62 156.77 970.13 157.79 970.66C158.81 971.19 159.83 971.73 160.85 972.29C161.87 972.85 162.89 973.43 163.91 974.02C164.93 974.61 165.95 975.22 166.97 975.84C167.99 976.46 169 977.09 170.02 977.74C171.04 978.39 172.06 979.05 173.08 979.73C174.1 980.41 175.63 981.45 176.14 981.8L182.25 1015.0" fill="none" stroke="#0000ff" stroke-width="1.2" stroke-dasharray="4.12 2.93" stroke-dashoffset="0.37"/>
<path d="M182.25 1015.0L732.65 1015.0" fill="none" stroke="#0000ff" stroke-width="1.2" stroke-dasharray="4.12 2.93" stroke-dashoffset="3.31"/>
<line x1="121.1" y1="1095.37" x2="121.1" y2="1276.98" stroke="#000" stroke-width="2.15" />
<line x1="110.9" y1="1275.9" x2="121.1" y2="1275.9" stroke="#000" stroke-width="2.15" />
<line x1="110.9" y1="1236.02" x2="121.1" y2="1236.02" stroke="#000" stroke-width="2.15" />
<line x1="110.9" y1="1196.14" x2="121.1" y2="1196.14" stroke="#000" stroke-width="2.15" />
<line x1="110.9" y1="1156.26" x2="121.1" y2="1156.26" stroke="#000" stroke-width="2.15" />
<line x1="110.9" y1="1116.38" x2="121.1" y2="1116.38" stroke="#000" stroke-width="2.15" />
<line x1="115.2" y1="1255.96" x2="121.1" y2="1255.96" stroke="#000" stroke-width="2.15" />
<line x1="115.2" y1="1216.08" x2="121.1" y2="1216.08" stroke="#000" stroke-width="2.15" />
<line x1="115.2" y1="1176.2" x2="121.1" y2="1176.2" stroke="#000" stroke-width="2.15" />
<line x1="115.2" y1="1136.32" x2="121.1" y2="1136.32" stroke="#000" stroke-width="2.15" />
<line x1="115.2" y1="1096.44" x2="121.1" y2="1096.44" stroke="#000" stroke-width="2.15" />
<text transform="translate(105.6 1282.9) scale(1 1.04)" font-size="20.7" text-anchor="end" fill="#000" >0</text>
<text transform="translate(105.6 1243.02) scale(1 1.04)" font-size="20.7" text-anchor="end" fill="#000" >200</text>
<text transform="translate(105.6 1203.14) scale(1 1.04)" font-size="20.7" text-anchor="end" fill="#000" >400</text>
<text transform="translate(105.6 1163.26) scale(1 1.04)" font-size="20.7" text-anchor="end" fill="#000" >600</text>
<text transform="translate(105.6 1123.38) scale(1 1.04)" font-size="20.7" text-anchor="end" fill="#000" >800</text>
<line x1="120.02" y1="1275.9" x2="733.73" y2="1275.9" stroke="#000" stroke-width="2.15" />
<line x1="121.1" y1="1275.9" x2="121.1" y2="1286.1" stroke="#000" stroke-width="2.15" />
<line x1="243.41" y1="1275.9" x2="243.41" y2="1286.1" stroke="#000" stroke-width="2.15" />
<line x1="365.72" y1="1275.9" x2="365.72" y2="1286.1" stroke="#000" stroke-width="2.15" />
<line x1="488.03" y1="1275.9" x2="488.03" y2="1286.1" stroke="#000" stroke-width="2.15" />
<line x1="610.34" y1="1275.9" x2="610.34" y2="1286.1" stroke="#000" stroke-width="2.15" />
<line x1="732.65" y1="1275.9" x2="732.65" y2="1286.1" stroke="#000" stroke-width="2.15" />
<line x1="182.25" y1="1275.9" x2="182.25" y2="1281.8" stroke="#000" stroke-width="2.15" />
<line x1="304.56" y1="1275.9" x2="304.56" y2="1281.8" stroke="#000" stroke-width="2.15" />
<line x1="426.88" y1="1275.9" x2="426.88" y2="1281.8" stroke="#000" stroke-width="2.15" />
<line x1="549.18" y1="1275.9" x2="549.18" y2="1281.8" stroke="#000" stroke-width="2.15" />
<line x1="671.5" y1="1275.9" x2="671.5" y2="1281.8" stroke="#000" stroke-width="2.15" />
<text transform="translate(120.8 1307.9) scale(1 1.04)" font-size="20.7" text-anchor="middle" fill="#000" >0</text>
<text transform="translate(243.11 1307.9) scale(1 1.04)" font-size="20.7" text-anchor="middle" fill="#000" >10</text>
<text transform="translate(365.42 1307.9) scale(1 1.04)" font-size="20.7" text-anchor="middle" fill="#000" >20</text>
<text transform="translate(487.73 1307.9) scale(1 1.04)" font-size="20.7" text-anchor="middle" fill="#000" >30</text>
<text transform="translate(610.04 1307.9) scale(1 1.04)" font-size="20.7" text-anchor="middle" fill="#000" >40</text>
<text transform="translate(732.35 1307.9) scale(1 1.04)" font-size="20.7" text-anchor="middle" fill="#000" >50</text>
<text transform="translate(412.6 1305.1) scale(1 1)" font-size="24.8" text-anchor="start" fill="#000" >rk</text>
<text transform="translate(432.8 1313.8) scale(1 1.04)" font-size="15.6" text-anchor="start" fill="#000" >0</text>
<g transform="translate(28.8 1212) rotate(-90)">
<text transform="translate(-1.6 0) scale(1 1)" font-size="24.8" text-anchor="start" fill="#000" >ρ</text>
<text transform="translate(12.2 0) scale(1 1)" font-size="24.8" text-anchor="start" fill="#000" >/</text>
<text transform="translate(19.6 0) scale(1 1)" font-size="24.8" text-anchor="start" fill="#000" >k</text>
<text transform="translate(31.8 -11.8) scale(1 1.04)" font-size="15.6" text-anchor="start" fill="#000" >3</text>
<text transform="translate(31.8 9.3) scale(1 1.04)" font-size="15.6" text-anchor="start" fill="#000" >0</text>
</g>
<text transform="translate(156.2 1107.5) scale(1 1)" font-size="24.8" text-anchor="start" fill="#000" >(e)</text>
<path d="M121.1 1275.9 L243.41 1275.9 L249.53 1163.5C250.04 1163.61 251.56 1163.94 252.58 1164.16C253.6 1164.38 254.62 1164.6 255.64 1164.83C256.66 1165.05 257.68 1165.28 258.7 1165.51C259.72 1165.74 260.74 1165.98 261.76 1166.21C262.78 1166.45 263.8 1166.69 264.81 1166.93C265.83 1167.17 266.85 1167.42 267.87 1167.66C268.89 1167.91 269.91 1168.16 270.93 1168.41C271.95 1168.66 272.97 1168.91 273.99 1169.17C275.01 1169.43 276.03 1169.69 277.05 1169.95C278.06 1170.21 279.08 1170.47 280.1 1170.73C281.12 1171 282.14 1171.27 283.16 1171.54C284.18 1171.81 285.2 1172.08 286.22 1172.35C287.24 1172.63 288.26 1172.9 289.28 1173.18C290.3 1173.46 291.31 1173.74 292.33 1174.02C293.35 1174.31 294.37 1174.59 295.39 1174.88C296.41 1175.16 297.43 1175.45 298.45 1175.74C299.47 1176.03 300.49 1176.32 301.51 1176.62C302.53 1176.91 303.55 1177.21 304.56 1177.51C305.58 1177.81 306.6 1178.11 307.62 1178.41C308.64 1178.71 309.66 1179.01 310.68 1179.32C311.7 1179.62 312.72 1179.93 313.74 1180.24C314.76 1180.55 315.78 1180.86 316.8 1181.17C317.82 1181.48 318.83 1181.79 319.85 1182.11C320.87 1182.42 321.89 1182.74 322.91 1183.06C323.93 1183.38 324.95 1183.7 325.97 1184.02C326.99 1184.34 328.01 1184.66 329.03 1184.99C330.05 1185.31 331.07 1185.64 332.08 1185.97C333.1 1186.29 334.12 1186.62 335.14 1186.95C336.16 1187.28 337.18 1187.61 338.2 1187.94C339.22 1188.28 340.24 1188.61 341.26 1188.95C342.28 1189.28 343.3 1189.62 344.32 1189.95C345.33 1190.29 346.35 1190.63 347.37 1190.97C348.39 1191.31 349.41 1191.65 350.43 1191.99C351.45 1192.34 352.47 1192.68 353.49 1193.02C354.51 1193.37 355.53 1193.71 356.55 1194.06C357.57 1194.4 358.59 1194.75 359.6 1195.1C360.62 1195.45 361.64 1195.8 362.66 1196.15C363.68 1196.5 364.7 1196.85 365.72 1197.2C366.74 1197.55 367.76 1197.9 368.78 1198.26C369.8 1198.61 370.82 1198.96 371.84 1199.32C372.85 1199.67 373.87 1200.03 374.89 1200.39C375.91 1200.74 376.93 1201.1 377.95 1201.46C378.97 1201.81 379.99 1202.17 381.01 1202.53C382.03 1202.89 383.05 1203.25 384.07 1203.61C385.09 1203.97 386.1 1204.33 387.12 1204.69C388.14 1205.05 389.16 1205.41 390.18 1205.77C391.2 1206.14 392.22 1206.5 393.24 1206.86C394.26 1207.22 395.28 1207.59 396.3 1207.95C397.32 1208.31 398.34 1208.68 399.36 1209.04C400.37 1209.4 401.39 1209.77 402.41 1210.13C403.43 1210.5 404.45 1210.86 405.47 1211.23C406.49 1211.59 407.51 1211.96 408.53 1212.32C409.55 1212.69 410.57 1213.05 411.59 1213.42C412.61 1213.78 413.62 1214.15 414.64 1214.51C415.66 1214.88 416.68 1215.24 417.7 1215.61C418.72 1215.98 420.25 1216.52 420.76 1216.71L426.88 1275.9 L732.65 1275.9" fill="none" stroke="#000" stroke-width="1.15" />
<path d="M121.1 1116.6C121.61 1116.61 123.14 1116.62 124.16 1116.64C125.18 1116.66 126.2 1116.68 127.22 1116.7C128.23 1116.73 129.25 1116.76 130.27 1116.79C131.29 1116.82 132.31 1116.85 133.33 1116.89C134.35 1116.93 135.37 1116.98 136.39 1117.02C137.41 1117.07 138.43 1117.12 139.45 1117.17C140.47 1117.22 141.48 1117.28 142.5 1117.34C143.52 1117.4 144.54 1117.47 145.56 1117.53C146.58 1117.6 147.6 1117.67 148.62 1117.75C149.64 1117.82 150.66 1117.9 151.68 1117.98C152.7 1118.06 153.72 1118.15 154.74 1118.24C155.75 1118.32 156.77 1118.42 157.79 1118.51C158.81 1118.61 159.83 1118.71 160.85 1118.81C161.87 1118.91 162.89 1119.02 163.91 1119.13C164.93 1119.24 165.95 1119.35 166.97 1119.46C167.99 1119.58 169 1119.7 170.02 1119.82C171.04 1119.95 172.06 1120.07 173.08 1120.2C174.1 1120.33 175.12 1120.47 176.14 1120.6C177.16 1120.74 178.18 1120.88 179.2 1121.02C180.22 1121.17 181.24 1121.31 182.25 1121.47C183.27 1121.62 184.29 1121.77 185.31 1121.93C186.33 1122.08 187.35 1122.24 188.37 1122.41C189.39 1122.57 190.41 1122.74 191.43 1122.91C192.45 1123.08 193.47 1123.25 194.49 1123.43C195.51 1123.61 196.52 1123.79 197.54 1123.97C198.56 1124.15 199.58 1124.34 200.6 1124.53C201.62 1124.72 202.64 1124.91 203.66 1125.11C204.68 1125.31 205.7 1125.51 206.72 1125.71C207.74 1125.91 208.76 1126.12 209.77 1126.33C210.79 1126.54 211.81 1126.75 212.83 1126.97C213.85 1127.18 214.87 1127.4 215.89 1127.63C216.91 1127.85 217.93 1128.07 218.95 1128.3C219.97 1128.53 220.99 1128.76 222.01 1129C223.02 1129.23 224.04 1129.47 225.06 1129.71C226.08 1129.96 227.1 1130.2 228.12 1130.45C229.14 1130.7 230.16 1130.95 231.18 1131.2C232.2 1131.46 233.22 1131.71 234.24 1131.97C235.26 1132.23 236.28 1132.5 237.29 1132.76C238.31 1133.03 239.33 1133.3 240.35 1133.57C241.37 1133.85 242.9 1134.26 243.41 1134.4L249.53 1275.85 L420.76 1275.85 L426.88 1215C427.38 1215.25 428.91 1215.98 429.92 1216.47C430.94 1216.97 431.95 1217.47 432.97 1217.97C433.98 1218.47 435 1218.98 436.01 1219.49C437.03 1220 438.05 1220.51 439.06 1221.03C440.08 1221.55 441.09 1222.07 442.11 1222.59C443.12 1223.11 444.14 1223.63 445.15 1224.16C446.17 1224.69 447.18 1225.22 448.2 1225.75C449.22 1226.28 450.23 1226.81 451.25 1227.34C452.26 1227.88 453.28 1228.41 454.29 1228.95C455.31 1229.48 456.32 1230.02 457.34 1230.56C458.35 1231.1 459.37 1231.63 460.39 1232.17C461.4 1232.71 462.42 1233.25 463.43 1233.79C464.45 1234.32 465.46 1234.86 466.48 1235.4C467.49 1235.93 468.51 1236.47 469.52 1237.01C470.54 1237.54 471.56 1238.08 472.57 1238.61C473.59 1239.14 474.6 1239.67 475.62 1240.2C476.63 1240.73 477.65 1241.26 478.66 1241.78C479.68 1242.31 480.7 1242.83 481.71 1243.35C482.73 1243.87 483.74 1244.38 484.76 1244.9C485.77 1245.41 486.79 1245.92 487.8 1246.43C488.82 1246.94 489.83 1247.44 490.85 1247.94C491.87 1248.44 492.88 1248.94 493.9 1249.43C494.91 1249.92 495.93 1250.41 496.94 1250.89C497.96 1251.37 498.97 1251.85 499.99 1252.32C501 1252.79 502.02 1253.26 503.04 1253.72C504.05 1254.18 505.07 1254.64 506.08 1255.09C507.1 1255.54 508.11 1255.98 509.13 1256.42C510.14 1256.86 511.16 1257.29 512.17 1257.72C513.19 1258.14 514.21 1258.56 515.22 1258.97C516.24 1259.38 517.25 1259.78 518.27 1260.18C519.28 1260.57 520.3 1260.96 521.31 1261.34C522.33 1261.72 523.35 1262.1 524.36 1262.46C525.38 1262.82 526.39 1263.18 527.41 1263.53C528.42 1263.88 529.44 1264.22 530.45 1264.55C531.47 1264.88 532.48 1265.2 533.5 1265.52C534.52 1265.84 535.53 1266.14 536.55 1266.45C537.56 1266.75 538.58 1267.04 539.59 1267.32C540.61 1267.61 541.62 1267.89 542.64 1268.16C543.65 1268.43 544.67 1268.69 545.69 1268.95C546.7 1269.2 547.72 1269.45 548.73 1269.69C549.75 1269.93 550.76 1270.16 551.78 1270.39C552.79 1270.61 553.81 1270.83 554.82 1271.04C555.84 1271.26 556.86 1271.46 557.87 1271.66C558.89 1271.85 559.9 1272.04 560.92 1272.23C561.93 1272.41 562.95 1272.59 563.96 1272.76C564.98 1272.93 566 1273.09 567.01 1273.24C568.03 1273.4 569.04 1273.55 570.06 1273.69C571.07 1273.83 572.09 1273.97 573.1 1274.1C574.12 1274.23 575.13 1274.35 576.15 1274.47C577.17 1274.58 578.18 1274.69 579.2 1274.8C580.21 1274.9 581.23 1275 582.24 1275.09C583.26 1275.18 584.27 1275.26 585.29 1275.34C586.3 1275.42 587.32 1275.49 588.34 1275.55C589.35 1275.62 590.37 1275.68 591.38 1275.73C592.4 1275.78 593.41 1275.83 594.43 1275.85C595.44 1275.87 596.46 1275.85 597.47 1275.85C598.49 1275.85 599.51 1275.85 600.52 1275.85C601.54 1275.85 602.55 1275.85 603.57 1275.85C604.58 1275.85 605.6 1275.85 606.61 1275.85C607.63 1275.85 608.65 1275.85 609.66 1275.85C610.68 1275.85 611.69 1275.85 612.71 1275.85C613.72 1275.85 614.74 1275.86 615.75 1275.85C616.77 1275.84 618.29 1275.8 618.8 1275.79L732.65 1275.85" fill="none" stroke="#ff0000" stroke-width="1.15" />
<path d="M121.1 1275.9 L243.41 1275.9 L249.53 1178.8C250.04 1178.89 251.56 1179.17 252.58 1179.36C253.6 1179.55 254.62 1179.74 255.64 1179.94C256.66 1180.13 257.68 1180.33 258.7 1180.54C259.72 1180.74 260.74 1180.95 261.76 1181.16C262.78 1181.38 263.8 1181.59 264.81 1181.81C265.83 1182.03 266.85 1182.25 267.87 1182.47C268.89 1182.7 269.91 1182.93 270.93 1183.16C271.95 1183.39 272.97 1183.63 273.99 1183.87C275.01 1184.11 276.03 1184.35 277.05 1184.59C278.06 1184.84 279.08 1185.08 280.1 1185.34C281.12 1185.59 282.14 1185.84 283.16 1186.1C284.18 1186.35 285.2 1186.61 286.22 1186.88C287.24 1187.14 288.26 1187.41 289.28 1187.67C290.3 1187.94 291.31 1188.21 292.33 1188.49C293.35 1188.76 294.37 1189.04 295.39 1189.32C296.41 1189.6 297.43 1189.88 298.45 1190.16C299.47 1190.45 300.49 1190.74 301.51 1191.03C302.53 1191.31 303.55 1191.61 304.56 1191.9C305.58 1192.2 306.6 1192.49 307.62 1192.79C308.64 1193.09 309.66 1193.39 310.68 1193.7C311.7 1194 312.72 1194.31 313.74 1194.61C314.76 1194.92 315.78 1195.23 316.8 1195.54C317.82 1195.86 318.83 1196.17 319.85 1196.49C320.87 1196.8 321.89 1197.12 322.91 1197.44C323.93 1197.76 324.95 1198.08 325.97 1198.41C326.99 1198.73 328.01 1199.06 329.03 1199.39C330.05 1199.71 331.07 1200.04 332.08 1200.37C333.1 1200.7 334.12 1201.04 335.14 1201.37C336.16 1201.71 337.18 1202.04 338.2 1202.38C339.22 1202.72 340.24 1203.05 341.26 1203.4C342.28 1203.74 343.3 1204.08 344.32 1204.42C345.33 1204.76 346.35 1205.11 347.37 1205.45C348.39 1205.8 349.41 1206.15 350.43 1206.49C351.45 1206.84 352.47 1207.19 353.49 1207.54C354.51 1207.89 355.53 1208.24 356.55 1208.6C357.57 1208.95 358.59 1209.3 359.6 1209.66C360.62 1210.01 361.64 1210.37 362.66 1210.72C363.68 1211.08 364.7 1211.43 365.72 1211.79C366.74 1212.15 367.76 1212.51 368.78 1212.87C369.8 1213.23 370.82 1213.59 371.84 1213.95C372.85 1214.31 373.87 1214.67 374.89 1215.03C375.91 1215.39 376.93 1215.76 377.95 1216.12C378.97 1216.48 379.99 1216.85 381.01 1217.21C382.03 1217.57 383.05 1217.94 384.07 1218.3C385.09 1218.66 386.1 1219.03 387.12 1219.39C388.14 1219.76 389.16 1220.12 390.18 1220.49C391.2 1220.85 392.22 1221.22 393.24 1221.58C394.26 1221.95 395.28 1222.32 396.3 1222.68C397.32 1223.05 398.34 1223.41 399.36 1223.78C400.37 1224.14 401.39 1224.51 402.41 1224.87C403.43 1225.24 404.45 1225.6 405.47 1225.97C406.49 1226.33 407.51 1226.69 408.53 1227.06C409.55 1227.42 410.57 1227.79 411.59 1228.15C412.61 1228.51 413.62 1228.87 414.64 1229.24C415.66 1229.6 416.68 1229.96 417.7 1230.32C418.72 1230.68 420.25 1231.22 420.76 1231.4L426.88 1275.9" fill="none" stroke="#0000ff" stroke-width="1.2" stroke-dasharray="4.12 2.93" stroke-dashoffset="0.37"/>
<path d="M426.88 1275.9 L732.65 1275.9" fill="none" stroke="#0000ff" stroke-width="1.2" stroke-dasharray="4.12 2.93" stroke-dashoffset="5.65"/>
<line x1="518.8" y1="1095.8" x2="518.8" y2="1150.4" stroke="#383838" stroke-width="0.7" />
<line x1="518.4" y1="1150.4" x2="702.3" y2="1150.4" stroke="#383838" stroke-width="0.7" />
<line x1="516.6" y1="1114.6" x2="518.8" y2="1114.6" stroke="#383838" stroke-width="0.7" />
<line x1="579.5" y1="1150.4" x2="579.5" y2="1152.6" stroke="#383838" stroke-width="0.7" />
<line x1="702.3" y1="1150.4" x2="702.3" y2="1152.6" stroke="#383838" stroke-width="0.7" />
<line x1="640.8" y1="1150.4" x2="640.8" y2="1151.8" stroke="#383838" stroke-width="0.7" />
<line x1="518.8" y1="1132.5" x2="702.3" y2="1132.5" stroke="#f7b4b4" stroke-width="0.8" />
<path d="M556.2 1150.54C556.7 1149.79 558.2 1147.49 559.2 1146.04C560.21 1144.58 561.21 1143.17 562.21 1141.81C563.21 1140.44 564.21 1139.12 565.21 1137.85C566.22 1136.57 567.22 1135.34 568.22 1134.15C569.22 1132.96 570.22 1131.82 571.22 1130.71C572.23 1129.61 573.23 1128.55 574.23 1127.53C575.23 1126.52 576.23 1125.54 577.23 1124.61C578.23 1123.67 579.24 1122.78 580.24 1121.93C581.24 1121.08 582.24 1120.27 583.24 1119.5C584.24 1118.73 585.25 1118 586.25 1117.3C587.25 1116.61 588.25 1115.96 589.25 1115.35C590.25 1114.73 591.26 1114.16 592.26 1113.62C593.26 1113.09 594.26 1112.59 595.26 1112.13C596.26 1111.67 597.27 1111.24 598.27 1110.86C599.27 1110.47 600.27 1110.12 601.27 1109.81C602.27 1109.49 603.27 1109.22 604.28 1108.97C605.28 1108.73 606.28 1108.52 607.28 1108.35C608.28 1108.18 609.28 1108.04 610.29 1107.94C611.29 1107.83 612.29 1107.76 613.29 1107.73C614.29 1107.69 615.29 1107.69 616.3 1107.72C617.3 1107.75 618.3 1107.81 619.3 1107.9C620.3 1108 621.3 1108.12 622.3 1108.28C623.31 1108.44 624.31 1108.63 625.31 1108.85C626.31 1109.07 627.31 1109.32 628.31 1109.6C629.32 1109.88 630.32 1110.19 631.32 1110.53C632.32 1110.87 633.32 1111.24 634.32 1111.64C635.33 1112.03 636.33 1112.46 637.33 1112.91C638.33 1113.37 639.33 1113.85 640.33 1114.36C641.33 1114.87 642.34 1115.41 643.34 1115.97C644.34 1116.53 645.34 1117.12 646.34 1117.74C647.34 1118.36 648.35 1119 649.35 1119.67C650.35 1120.33 651.35 1121.03 652.35 1121.74C653.35 1122.46 654.36 1123.2 655.36 1123.97C656.36 1124.73 657.36 1125.52 658.36 1126.33C659.36 1127.15 660.37 1127.98 661.37 1128.84C662.37 1129.7 663.37 1130.58 664.37 1131.48C665.37 1132.39 666.37 1133.31 667.38 1134.26C668.38 1135.21 669.38 1136.17 670.38 1137.16C671.38 1138.15 672.38 1139.16 673.39 1140.19C674.39 1141.21 675.39 1142.26 676.39 1143.33C677.39 1144.4 678.39 1145.49 679.4 1146.59C680.4 1147.7 681.9 1149.4 682.4 1149.96" fill="none" stroke="#000" stroke-width="2.8" />
<text transform="translate(516.3 1119.8) scale(1 1.04)" font-size="15.5" text-anchor="end" fill="#000" >120</text>
<text transform="translate(516.3 1155.4) scale(1 1.04)" font-size="15.5" text-anchor="end" fill="#000" >110</text>
<text transform="translate(579.9 1164.6) scale(1 1.04)" font-size="15.5" text-anchor="middle" fill="#000" >1000</text>
<text transform="translate(701.9 1164.6) scale(1 1.04)" font-size="15.5" text-anchor="middle" fill="#000" >2000</text>
<text transform="translate(603.2 1191.3) scale(1 1)" font-size="22" text-anchor="start" fill="#000" >u</text>
<g transform="translate(471.0 1125.5) rotate(-90)">
<text transform="translate(0 0) scale(1 1)" font-size="22" text-anchor="start" fill="#000" >v</text>
</g>
</svg></body></html>
